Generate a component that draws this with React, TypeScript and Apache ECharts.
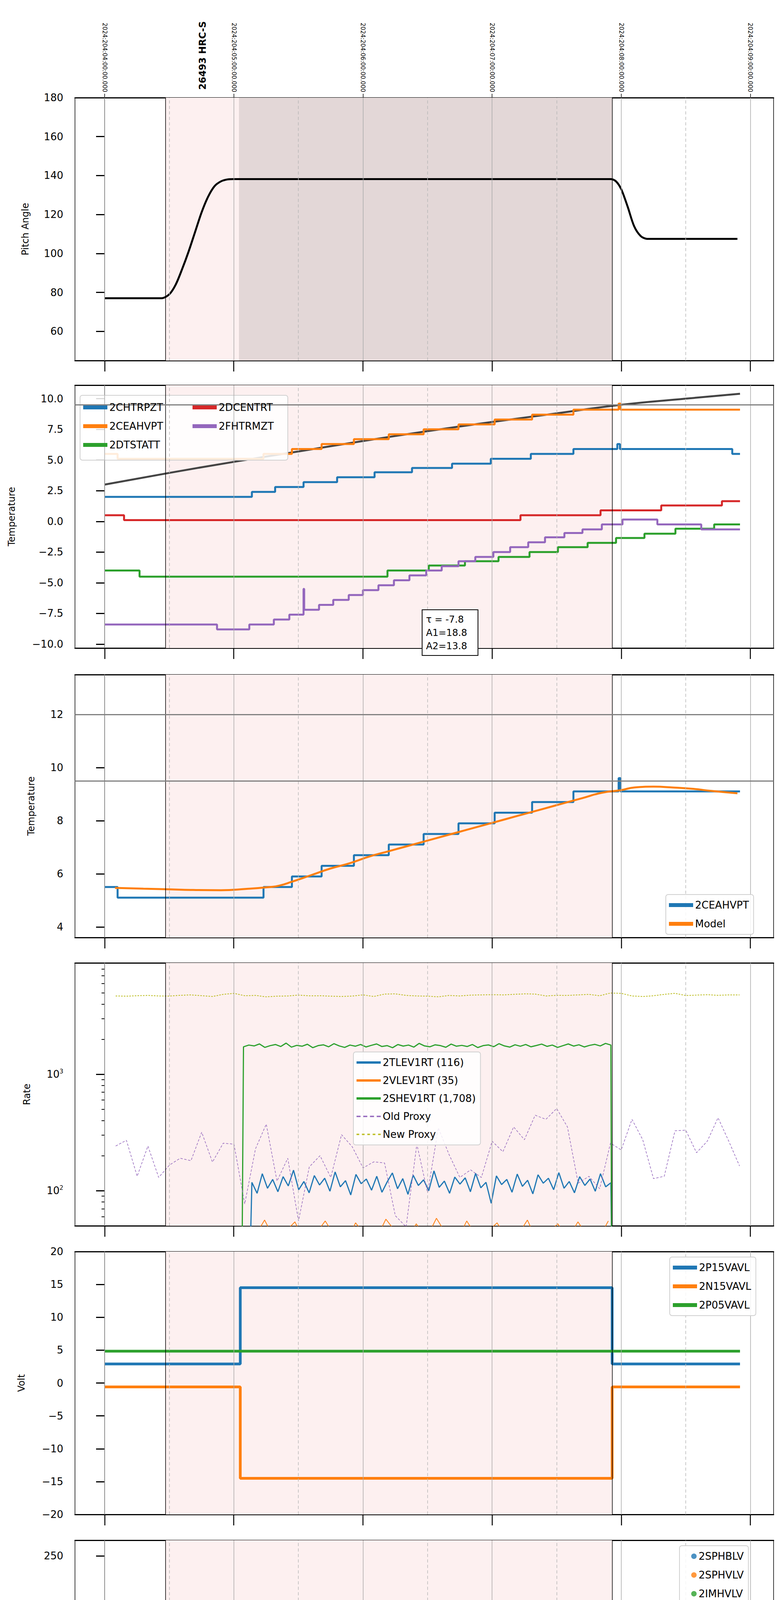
import React, { useEffect, useRef } from 'react';
import * as echarts from 'echarts';

// ---------- layout constants ----------
const X0 = -0.23;
const X1 = 5.18;
const GRID_LEFT = 192;
const GRID_WIDTH = 1789;
const GRID_H = 673;
const GRID_TOPS = [250, 986, 1727, 2465, 3204, 3943, 4682, 5421];

const HOURS = [0, 1, 2, 3, 4, 5];
const HALF_HOURS = [0.5, 1.5, 2.5, 3.5, 4.5];
const TOP_LABELS = [
  '2024:204:04:00:00.000', '2024:204:05:00:00.000', '2024:204:06:00:00.000',
  '2024:204:07:00:00.000', '2024:204:08:00:00.000', '2024:204:09:00:00.000',
];
const OBS_START = 0.47;
const OBS_END = 3.93;
const SLEW_END = 1.04;

// ---------- data ----------
const pitch = [
  [0, 77], [0.44, 77], [0.5, 79], [0.55, 84], [0.6, 92], [0.65, 101], [0.7, 111], [0.75, 121],
  [0.8, 129], [0.85, 134.5], [0.9, 137], [0.95, 138], [1.0, 138.2], [3.92, 138.2], [3.96, 137],
  [4.0, 133], [4.05, 124], [4.1, 114], [4.15, 109], [4.2, 107.5], [4.9, 107.5],
];

const fitLine = [
  [0, 3.0], [0.5, 3.95], [1, 4.85], [1.5, 5.7], [2, 6.55], [2.5, 7.35], [3, 8.1], [3.5, 8.8],
  [4, 9.5], [4.5, 10.0], [4.92, 10.4],
];
const chtrpzt = [
  [0, 2.0], [1.14, 2.4], [1.32, 2.8], [1.54, 3.2], [1.8, 3.6], [2.09, 4.0], [2.38, 4.35],
  [2.69, 4.7], [2.99, 5.1], [3.3, 5.5], [3.63, 5.9], [3.97, 6.3], [3.99, 5.9], [4.86, 5.5], [4.92, 5.5],
];
const ceahvpt = [
  [0, 5.5], [0.1, 5.1], [1.23, 5.5], [1.45, 5.9], [1.68, 6.3], [1.93, 6.7], [2.2, 7.1], [2.47, 7.5],
  [2.74, 7.9], [3.02, 8.3], [3.31, 8.7], [3.63, 9.1], [3.98, 9.6], [3.995, 9.1], [4.92, 9.1],
];
const dtstatt = [
  [0, -4.0], [0.27, -4.5], [2.19, -4.0], [2.51, -3.6], [2.79, -3.25], [3.05, -2.9], [3.29, -2.5],
  [3.51, -2.1], [3.74, -1.75], [3.96, -1.35], [4.18, -1.0], [4.42, -0.6], [4.72, -0.25], [4.92, -0.25],
];
const dcentrt = [
  [0, 0.5], [0.15, 0.1], [3.22, 0.5], [3.84, 0.9], [4.31, 1.3], [4.78, 1.65], [4.92, 1.65],
];
const fhtrmzt = [
  [0, -8.4], [0.87, -8.8], [1.12, -8.4], [1.31, -8.0], [1.43, -7.6], [1.54, -5.5], [1.545, -7.2],
  [1.66, -6.8], [1.77, -6.4], [1.89, -6.0], [2.0, -5.6], [2.12, -5.2], [2.24, -4.8], [2.36, -4.4],
  [2.49, -4.0], [2.61, -3.65], [2.74, -3.25], [2.87, -2.9], [3.01, -2.5], [3.14, -2.1], [3.28, -1.7],
  [3.41, -1.3], [3.56, -0.95], [3.7, -0.65], [3.85, -0.25], [4.01, 0.15], [4.28, -0.25], [4.62, -0.65],
  [4.92, -0.65],
];

const ceahvptModel = [
  [0.08, 5.47], [0.3, 5.44], [0.6, 5.4], [0.9, 5.38], [1.1, 5.43], [1.28, 5.5], [1.35, 5.55],
  [1.45, 5.7], [1.6, 5.95], [1.75, 6.2], [1.9, 6.4], [2.05, 6.65], [2.2, 6.85], [2.35, 7.05],
  [2.5, 7.25], [2.65, 7.45], [2.8, 7.65], [2.95, 7.85], [3.1, 8.05], [3.25, 8.25], [3.4, 8.45],
  [3.55, 8.65], [3.7, 8.85], [3.85, 9.05], [4.0, 9.15], [4.1, 9.25], [4.25, 9.28], [4.4, 9.25],
  [4.55, 9.2], [4.7, 9.12], [4.9, 9.03],
];

// rates
const PROXY_T0 = 0.085;
const PROXY_DT = 0.0833;
const oldProxy = [
  242, 271, 133, 242, 130, 166, 190, 181, 318, 176, 256, 251, 77, 229, 373, 121, 190, 55, 160, 200,
  130, 303, 238, 157, 177, 173, 61, 49, 251, 96, 346, 204, 130, 151, 130, 266, 216, 353, 274, 445,
  410, 508, 353, 116, 133, 104, 256, 224, 410, 274, 127, 133, 327, 331, 212, 266, 423, 266, 163,
];
const newProxy = [
  4700, 4680, 4720, 4750, 4700, 4690, 4760, 4800, 4720, 4650, 4850, 4950, 4720, 4750, 4620, 4680,
  4700, 4780, 4710, 4720, 4680, 4650, 4690, 4800, 4650, 4880, 4900, 4750, 4700, 4680, 4620, 4750,
  4700, 4780, 4800, 4820, 4800, 4850, 4900, 4880, 4700, 4760, 4750, 4800, 4850, 4720, 4980, 4950,
  4700, 4650, 4720, 4850, 4950, 4740, 4780, 4820, 4760, 4800, 4800,
];
const RATE_T0 = 1.14;
const RATE_T1 = 3.92;
const tlev1rt = [
  118, 95, 140, 105, 125, 98, 132, 110, 150, 102, 120, 96, 135, 112, 128, 99, 145, 108, 122, 92,
  138, 115, 126, 101, 133, 97, 119, 142, 104, 127, 93, 136, 111, 124, 100, 148, 107, 121, 95, 131,
  114, 129, 98, 141, 106, 118, 78, 134, 113, 125, 97, 139, 109, 123, 94, 137, 116, 128, 102, 143,
  105, 120, 96, 132, 111, 126, 99, 140, 108, 117,
];
const shev1rt = [
  1720, 1780, 1750, 1820, 1700, 1760, 1800, 1730, 1850, 1710, 1770, 1740, 1810, 1690, 1760, 1790,
  1720, 1830, 1750, 1700, 1780, 1740, 1800, 1715, 1770, 1820, 1730, 1760, 1690, 1800, 1745, 1780,
  1710, 1840, 1750, 1720, 1790, 1760, 1705, 1815, 1740, 1770, 1730, 1800, 1695, 1760, 1785, 1725,
  1830, 1750, 1710, 1790, 1740, 1800, 1720, 1765, 1815, 1735, 1780, 1700, 1760, 1820, 1745, 1790,
  1715, 1770, 1805, 1750, 1840, 1780,
];
const vlev1rt = [
  40, 56, 38, 44, 54, 36, 42, 55, 40, 35, 53, 41, 38, 57, 44, 36, 52, 39, 58, 42, 37, 55, 40, 44,
  53, 38, 41, 56, 36, 43, 52, 39, 54, 40, 38, 55,
];

// volts
const p15v = [[0, 2.9], [1.05, 14.5], [3.93, 2.9], [4.92, 2.9]];
const n15v = [[0, -0.6], [1.05, -14.5], [3.93, -0.6], [4.92, -0.6]];
const p05v = [[0, 4.85], [4.92, 4.85]];

// HV monitor
const sphblvEarly = [[1.08, 118], [1.09, 102], [1.1, 97], [1.11, 92], [1.12, 87], [1.13, 82], [1.14, 78]];
const sphvlvEarly = [
  [1.08, 127], [1.085, 122], [1.09, 96], [1.1, 91], [1.11, 86], [1.12, 80], [1.13, 75],
  [2.56, 127], [2.58, 127], [2.6, 127], [2.62, 127], [2.69, 127], [3.13, 127], [3.15, 127], [3.17, 127],
];
const sphblvBand = [[1.15, 77], [3.93, 77]];
const sphvlvBand = [[1.15, 70], [3.93, 70]];

// detector temps (oscillating blocks)
const OSC_A = [2.555, 2.575, 2.6, 2.62, 2.645, 2.67, 2.69, 2.715, 2.74, 2.765, 2.79, 2.81, 2.83];
const OSC_B = [3.1, 3.12, 3.14, 3.16, 3.18, 3.2, 3.22, 3.24];
const osc = (times: number[], a: number, b: number) => times.map((t, i) => [t, i % 2 ? b : a]);

const spinatm = [
  [1.05, 1.3], [1.06, 1.7], [2.01, 2.2], ...osc(OSC_A, 2.2, -1.2), [2.84, 2.7],
  ...osc(OSC_B, 2.7, -1.2), [3.25, 2.7], [3.54, 3.15], [3.93, 3.15],
];
const sphvatm = [
  [1.05, 13.7], [1.27, 14.0], [1.34, 14.3], [1.41, 14.65], [1.49, 15.0], [1.56, 15.35], [1.65, 15.7],
  [1.74, 16.05], [1.85, 16.4], [1.97, 16.75], [2.1, 17.1], [2.25, 17.45], [2.4, 17.8],
  ...osc(OSC_A, 18.2, 8.8), [2.84, 18.5], [2.94, 18.85], ...osc(OSC_B, 19.2, 9.6), [3.25, 19.2],
  [3.34, 19.55], [3.58, 19.95], [3.85, 20.3], [3.93, 20.3],
];
const iminatm = [
  [1.05, 0.35], ...osc(OSC_A, 2.3, 0.35), [2.84, 0.35], ...osc(OSC_B, 2.7, 0.35), [3.25, 0.35],
  [3.58, 0.8], [3.925, 0.8], [3.93, 16],
];
const imhvatm = [
  [1.05, -1.5], [1.055, 12.6], [1.46, 12.97], [1.78, 13.3], [2.04, 13.6], [2.31, 13.95],
  ...osc(OSC_A, 18.3, 14.3), [2.84, 14.65], [3.03, 15.0], ...osc(OSC_B, 19.3, 15.0), [3.25, 15.0],
  [3.28, 15.35], [3.53, 15.7], [3.8, 16.0], [3.93, 16.0], [3.935, 21], [3.94, -1.5],
];

// FEA temps
const feaHtr = [
  [0, -8.4], [0.87, -8.85], [1.12, -8.4], [1.31, -8.0], [1.43, -7.6], [1.54, -5.6], [1.545, -7.15],
  [1.65, -6.75], [1.77, -6.4], [1.89, -6.0], [2.0, -5.6], [2.12, -5.2], [2.24, -4.8], [2.36, -4.4],
  [2.49, -4.0], [2.61, -3.65], [2.74, -3.3], [2.87, -2.9], [3.01, -2.5], [3.14, -2.1], [3.28, -1.75],
  [3.41, -1.35], [3.56, -0.95], [3.7, -0.6], [3.85, -0.25], [4.01, 0.15], [4.28, -0.25], [4.62, -0.6],
  [4.92, -0.6],
];
const feaRad = [
  [1.35, -9.85], [1.46, -9.2], [1.56, -8.8], [1.66, -8.38], [1.78, -7.98], [1.89, -7.59], [2.01, -7.17],
  [2.14, -6.78], [2.26, -6.38], [2.39, -5.99], [2.52, -5.57], [2.67, -5.17], [2.79, -4.8], [2.93, -4.4],
  [3.08, -4.0], [3.23, -3.63], [3.36, -3.26], [3.52, -2.89], [3.67, -2.5], [3.83, -2.12], [4.23, -2.5],
  [4.4, -2.89], [4.6, -3.26], [4.83, -3.63], [4.92, -3.63],
];
const feaPra = [
  [1.05, -9.9], [1.06, -8.5], [1.12, -8.1], [1.17, -7.7], [1.24, -7.3], [1.3, -6.86], [1.39, -6.42],
  [1.48, -6.0], [1.6, -5.6], [1.71, -5.2], [1.83, -4.78], [1.96, -4.36], [2.1, -3.94], [2.24, -3.52],
  [2.37, -3.1], [2.52, -2.68], ...osc(OSC_A, -2.23, -6.0), [2.84, -1.38], [2.97, -0.96],
  ...osc(OSC_B, -0.51, -6.0), [3.25, -0.51], [3.29, -0.07], [3.46, 0.37], [3.64, 0.82], [3.8, 0.82],
];
const feaE00 = [
  [1.045, -9.9], [1.05, -9.68], [1.21, -9.28], [1.28, -8.9], [1.39, -8.52], [1.48, -8.17],
  [1.56, -7.82], [1.64, -7.45], [1.73, -7.1], [1.83, -6.75], [1.89, -7.5], [1.9, -6.75], [1.91, -6.38],
  [2.0, -6.05], [2.07, -5.68], [2.17, -5.33], [2.29, -4.98], [2.39, -4.63], [2.5, -4.28],
  [2.55, 1.2], [2.57, -4.0], [2.585, -10], [2.595, 1.2], [2.62, -4.0], [2.645, 1.2], [2.67, -4.0],
  [2.69, 1.2], [2.715, -4.0], [2.74, 1.2], [2.765, -4.0], [2.79, 1.2], [2.81, -4.0], [2.83, -3.26],
  [2.91, -2.93], [3.01, -2.6], ...osc(OSC_B, 1.2, -2.3), [3.24, -1.94], [3.34, -1.6], [3.45, -1.26],
  [3.57, -0.93], [3.68, -0.6], [3.81, -0.28], [3.93, 1.2], [3.94, -10],
];

// ---------- helpers ----------
const FONT = '"DejaVu Sans", sans-serif';
const C = { blue: '#1f77b4', orange: '#ff7f0e', green: '#2ca02c', red: '#d62728', purple: '#9467bd', olive: '#bcbd22' };
const fmtMinus = (s: string) => s.replace('-', '\u2212');

const range = (a: number, b: number, s: number) => {
  const out: number[] = [];
  for (let v = a; v <= b + 1e-9; v += s) out.push(+v.toFixed(4));
  return out;
};
const spread = (vals: number[], t0: number, t1: number) =>
  vals.map((v, i) => [t0 + ((t1 - t0) * i) / (vals.length - 1), v]);

type YCfg = { min: number; max: number; ticks: number[]; name: string; gap: number; fmt?: (v: number) => string; log?: boolean };
const Y_CFG: YCfg[] = [
  { min: 45, max: 180, ticks: range(60, 180, 20), name: 'Pitch Angle', gap: 115 },
  { min: -10.32, max: 11.1, ticks: range(-10, 10, 2.5), name: 'Temperature', gap: 150, fmt: (v) => v.toFixed(1) },
  { min: 3.6, max: 13.5, ticks: range(4, 12, 2), name: 'Temperature', gap: 100 },
  { min: 50, max: 9036, ticks: [100, 1000], name: 'Rate', gap: 111, log: true },
  { min: -20, max: 20, ticks: range(-20, 20, 5), name: 'Volt', gap: 125 },
  { min: 0, max: 266, ticks: range(0, 250, 50), name: 'HV Monitor', gap: 118 },
  { min: -1.15, max: 20.7, ticks: range(0, 20, 2.5), name: 'Detector Temp', gap: 130, fmt: (v) => v.toFixed(1) },
  { min: -9.9, max: 0.98, ticks: range(-8, 0, 2), name: 'FEA Temp', gap: 105 },
];

const lineSeries = (i: number, name: string, data: number[][], color: string, width = 5, extra: any = {}) => ({
  type: 'line', name, xAxisIndex: i, yAxisIndex: i, data, step: 'end', showSymbol: false, z: 3,
  lineStyle: { color, width }, itemStyle: { color }, clip: true, ...extra,
});

const legendBase = (extra: any) => ({
  orient: 'vertical', backgroundColor: 'rgba(255,255,255,0.85)', borderColor: '#d0d0d0', borderWidth: 2,
  borderRadius: 6, padding: [14, 12, 14, 8], itemGap: 22, itemWidth: 62, itemHeight: 10, z: 10,
  textStyle: { fontFamily: FONT, fontSize: 26, color: '#000' }, ...extra,
});
const rectItems = (names: string[]) => names.map((n) => ({ name: n, icon: 'rect' }));

const App: React.FC = () => {
  const ref = useRef<HTMLDivElement>(null);

  useEffect(() => {
    if (!ref.current) return;
    const chart = echarts.init(ref.current, null, { renderer: 'svg' });

    const grid = GRID_TOPS.map((top) => ({
      left: GRID_LEFT, top, width: GRID_WIDTH, height: GRID_H, show: true,
      borderColor: '#000', borderWidth: 1.5, backgroundColor: 'transparent',
    }));

    const xAxis: any[] = [];
    GRID_TOPS.forEach((_, i) => {
      xAxis.push({
        gridIndex: i, type: 'value', min: X0, max: X1, position: 'bottom',
        axisLine: { show: true, onZero: false, lineStyle: { color: '#000', width: 3 } },
        axisTick: { show: true, customValues: HOURS, length: 28, lineStyle: { color: '#000', width: 2.5 } },
        axisLabel: {
          show: i === 7, customValues: HOURS, formatter: (v: number) => `0${v}h`,
          fontFamily: FONT, fontSize: 26, color: '#000', margin: 40,
        },
        splitLine: { show: false },
        name: i === 7 ? '2024-07-22 (204)' : '', nameLocation: 'middle', nameGap: 95,
        nameTextStyle: { fontFamily: FONT, fontSize: 30, color: '#000' },
      });
    });
    GRID_TOPS.forEach((_, i) => {
      xAxis.push({
        gridIndex: i, type: 'value', min: X0, max: X1, position: 'top',
        axisLine: { show: true, onZero: false, lineStyle: { color: '#000', width: 3 } },
        axisTick: { show: i === 0, customValues: HOURS, length: 10, lineStyle: { color: '#000', width: 1.5 } },
        axisLabel: {
          show: i === 0, customValues: HOURS, rotate: 90, margin: 14,
          formatter: (v: number) => TOP_LABELS[Math.round(v)], fontFamily: FONT, fontSize: 15, color: '#000',
        },
        splitLine: { show: false },
      });
    });
    // half-hour "30" labels on the bottom panel
    xAxis.push({
      gridIndex: 7, type: 'value', min: X0, max: X1, position: 'bottom',
      axisLine: { show: false }, axisTick: { show: false }, splitLine: { show: false },
      axisLabel: { customValues: HALF_HOURS, formatter: () => '30', fontFamily: FONT, fontSize: 14, color: '#000', margin: 10 },
    });

    const yAxis = Y_CFG.map((c, i) => ({
      gridIndex: i, type: c.log ? 'log' : 'value', logBase: 10, min: c.min, max: c.max,
      axisLine: { show: true, lineStyle: { color: '#000', width: 1.5 } },
      axisTick: { show: true, customValues: c.ticks, length: 22, lineStyle: { color: '#000', width: 3 } },
      axisLabel: {
        customValues: c.ticks, fontFamily: FONT, fontSize: 26, color: '#000', margin: 30,
        formatter: c.log
          ? (v: number) => `10{sup|${Math.round(Math.log10(v))}}`
          : (v: number) => fmtMinus(c.fmt ? c.fmt(v) : String(v)),
        rich: { sup: { fontSize: 15, verticalAlign: 'top', padding: [0, 0, 14, 0], fontFamily: FONT } },
      },
      minorTick: c.log ? { show: true, splitNumber: 9, length: 8, lineStyle: { color: '#000', width: 2 } } : { show: false },
      splitLine: { show: false },
      name: c.name, nameLocation: 'middle', nameGap: c.gap,
      nameTextStyle: { fontFamily: FONT, fontSize: 24, color: '#000' },
    }));

    const vLines = [
      ...HOURS.map((h) => ({ xAxis: h, lineStyle: { color: '#aaaaaa', width: 1.5, type: 'solid' } })),
      ...HALF_HOURS.map((h) => ({ xAxis: h, lineStyle: { color: '#b8b8b8', width: 1.5, type: [8, 6] } })),
      { xAxis: OBS_START, lineStyle: { color: '#000', width: 1.5, type: 'solid' } },
      { xAxis: OBS_END, lineStyle: { color: '#000', width: 1.5, type: 'solid' } },
    ];
    const hLines: Record<number, number[]> = { 1: [9.5], 2: [12, 9.5] };

    const bgSeries = Y_CFG.map((c, i) => ({
      type: 'line', name: `bg${i}`, xAxisIndex: i, yAxisIndex: i, z: 1, silent: true,
      data: [[X0, c.log ? 100 : c.min]], showSymbol: false, lineStyle: { opacity: 0 },
      markArea: {
        silent: true,
        data: [
          [{ xAxis: OBS_START, itemStyle: { color: '#fdf0f0' } }, { xAxis: OBS_END }],
          ...(i === 0 ? [[{ xAxis: SLEW_END, itemStyle: { color: '#e3d7d7' } }, { xAxis: OBS_END }]] : []),
        ],
      },
      markLine: {
        silent: true, symbol: 'none', label: { show: false },
        data: [
          ...vLines,
          ...(hLines[i] || []).map((y) => ({ yAxis: y, lineStyle: { color: '#808080', width: 3, type: 'solid' } })),
        ],
      },
    }));

    const series: any[] = [
      ...bgSeries,
      lineSeries(0, 'pitch', pitch, '#000', 5, { step: false, smooth: 0.3 }),

      lineSeries(1, 'fit', fitLine, '#444444', 5, { step: false, smooth: true }),
      lineSeries(1, '2CHTRPZT', chtrpzt, C.blue),
      lineSeries(1, '2CEAHVPT', ceahvpt, C.orange),
      lineSeries(1, '2DTSTATT', dtstatt, C.green),
      lineSeries(1, '2DCENTRT', dcentrt, C.red),
      lineSeries(1, '2FHTRMZT', fhtrmzt, C.purple),

      { ...lineSeries(2, '2CEAHVPT', ceahvpt, C.blue), name: '2CEAHVPT ' },
      lineSeries(2, 'Model', ceahvptModel, C.orange, 5, { step: false, smooth: true }),

      lineSeries(3, '2TLEV1RT (116)', [[1.13, 40], ...spread(tlev1rt, RATE_T0, RATE_T1), [3.925, 40]], C.blue, 3, { step: false }),
      lineSeries(3, '2VLEV1RT (35)', spread(vlev1rt, 1.16, 3.9), C.orange, 2, { step: false }),
      lineSeries(3, '2SHEV1RT (1,708)', [[1.065, 40], ...spread(shev1rt, 1.075, 3.92), [3.925, 40]], C.green, 3, { step: false }),
      lineSeries(3, 'Old Proxy', oldProxy.map((v, k) => [PROXY_T0 + k * PROXY_DT, v]), C.purple, 1.5, { step: false, lineStyle: { color: C.purple, width: 1.5, type: [6, 4] } }),
      lineSeries(3, 'New Proxy', newProxy.map((v, k) => [PROXY_T0 + k * PROXY_DT, v]), C.olive, 2, { step: false, lineStyle: { color: C.olive, width: 2, type: [4, 3] } }),

      lineSeries(4, '2P15VAVL', p15v, C.blue, 7),
      lineSeries(4, '2N15VAVL', n15v, C.orange, 7),
      lineSeries(4, '2P05VAVL', p05v, C.green, 7),

      lineSeries(5, 'band-b', sphblvBand, C.blue, 14, { step: false, silent: true }),
      lineSeries(5, 'band-o', sphvlvBand, C.orange, 14, { step: false, silent: true }),
      { type: 'scatter', name: '2SPHBLV', xAxisIndex: 5, yAxisIndex: 5, data: sphblvEarly, symbolSize: 11, itemStyle: { color: C.blue }, z: 4 },
      { type: 'scatter', name: '2SPHVLV', xAxisIndex: 5, yAxisIndex: 5, data: sphvlvEarly, symbolSize: 11, itemStyle: { color: C.orange }, z: 4 },
      { type: 'scatter', name: '2IMHVLV', xAxisIndex: 5, yAxisIndex: 5, data: [], itemStyle: { color: C.green } },
      { type: 'scatter', name: '2IMHBLV', xAxisIndex: 5, yAxisIndex: 5, data: [], itemStyle: { color: C.red } },

      lineSeries(6, '2SPINATM', spinatm, C.blue, 6),
      lineSeries(6, '2SPHVATM', sphvatm, C.orange, 6),
      lineSeries(6, '2IMINATM', iminatm, C.green, 6),
      lineSeries(6, '2IMHVATM', imhvatm, C.red, 6),

      { ...lineSeries(7, '2FHTRMZT', feaHtr, C.blue, 6), name: '2FHTRMZT ' },
      lineSeries(7, '2FRADPYT', feaRad, C.orange, 6),
      lineSeries(7, '2FEPRATM', feaPra, C.green, 6),
      lineSeries(7, '2FE00ATM', feaE00, C.red, 6),
    ];

    const plain = { backgroundColor: 'transparent', borderWidth: 0, padding: 0, z: 20 };
    const legend = [
      // two-column legend of the temperature panel, framed by a graphic box below
      legendBase({ ...plain, left: 213, top: 1030, data: rectItems(['2CHTRPZT', '2CEAHVPT', '2DTSTATT']) }),
      legendBase({ ...plain, left: 493, top: 1030, data: rectItems(['2DCENTRT', '2FHTRMZT']) }),
      legendBase({ left: 1705, top: 2290, data: rectItems(['2CEAHVPT ', 'Model']), formatter: (n: string) => n.trim() }),
      legendBase({
        left: 905, top: 2693, itemGap: 20,
        data: [
          { name: '2TLEV1RT (116)', icon: 'rect' }, { name: '2VLEV1RT (35)', icon: 'rect' },
          { name: '2SHEV1RT (1,708)', icon: 'rect' },
          { name: 'Old Proxy', icon: 'path://M0,0h3v1h-3zM5,0h3v1h-3zM10,0h3v1h-3zM15,0h3v1h-3z' },
          { name: 'New Proxy', icon: 'path://M0,0h2v1h-2zM4,0h2v1h-2zM8,0h2v1h-2zM12,0h2v1h-2zM16,0h2v1h-2z' },
        ],
        itemHeight: 6,
      }),
      legendBase({ left: 1715, top: 3218, data: rectItems(['2P15VAVL', '2N15VAVL', '2P05VAVL']) }),
      legendBase({ left: 1740, top: 3957, itemWidth: 14, itemHeight: 14, data: ['2SPHBLV', '2SPHVLV', '2IMHVLV', '2IMHBLV'].map((n) => ({ name: n, icon: 'circle' })), padding: [14, 12, 14, 30] }),
      legendBase({ left: 1710, top: 4695, data: rectItems(['2SPINATM', '2SPHVATM', '2IMINATM', '2IMHVATM']) }),
      legendBase({ left: 1710, top: 5900, data: rectItems(['2FHTRMZT ', '2FRADPYT', '2FEPRATM', '2FE00ATM']), formatter: (n: string) => n.trim() }),
    ];

    chart.setOption({
      animation: false,
      backgroundColor: '#fff',
      grid, xAxis, yAxis, series, legend,
    });

    const labelX = chart.convertToPixel({ xAxisIndex: 0 }, 0.76) as number;
    chart.setOption({
      graphic: [
        {
          type: 'rect', x: 205, y: 1012, z: 4, shape: { x: 0, y: 0, width: 532, height: 166, r: 6 },
          style: { fill: 'rgba(255,255,255,0.85)', stroke: '#d0d0d0', lineWidth: 2 },
        },
        {
          type: 'text', x: labelX, y: 230, rotation: Math.PI / 2, z: 100,
          style: { text: '26493 HRC-S', font: `bold 24px ${FONT}`, fill: '#000', textAlign: 'left', textVerticalAlign: 'middle' },
        },
        {
          type: 'rect', x: 1081, y: 1561, z: 100, shape: { x: 0, y: 0, width: 143, height: 117 },
          style: { fill: '#fff', stroke: '#000', lineWidth: 2 },
        },
        {
          type: 'text', x: 1091, y: 1569, z: 101,
          style: { text: '\u03c4 = -7.8\nA1=18.8\nA2=13.8', font: `24px ${FONT}`, fill: '#000', lineHeight: 34 },
        },
      ],
    });

    return () => chart.dispose();
  }, []);

  return <div ref={ref} style={{ position: 'absolute', left: 0, top: 0, width: 2000, height: 6200 }} />;
};

export default App;
